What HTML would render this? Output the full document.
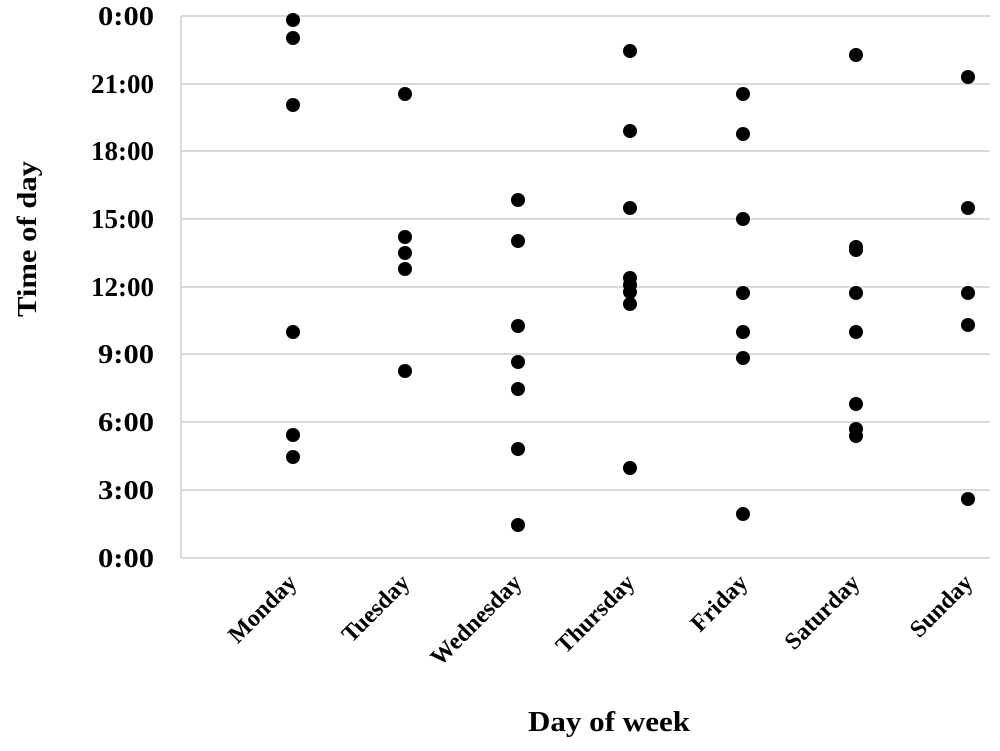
<!DOCTYPE html>
<html><head><meta charset="utf-8"><style>body{margin:0;background:#fff}</style></head><body>
<svg width="1000" height="746" xmlns="http://www.w3.org/2000/svg" font-family="Liberation Serif, serif" font-weight="bold">
<rect width="1000" height="746" fill="#fff"/>
<g stroke="#d9d9d9" stroke-width="2">
<line x1="181" y1="16" x2="990" y2="16"/><line x1="181" y1="84" x2="990" y2="84"/><line x1="181" y1="151" x2="990" y2="151"/><line x1="181" y1="219" x2="990" y2="219"/><line x1="181" y1="287" x2="990" y2="287"/><line x1="181" y1="354" x2="990" y2="354"/><line x1="181" y1="422" x2="990" y2="422"/><line x1="181" y1="490" x2="990" y2="490"/><line x1="181" y1="558" x2="990" y2="558"/>
<line x1="181" y1="16" x2="181" y2="558"/>
</g>
<g font-size="27" text-anchor="end" fill="#000">
<text x="154" y="25" textLength="56" lengthAdjust="spacingAndGlyphs">0:00</text><text x="154" y="93">21:00</text><text x="154" y="160">18:00</text><text x="154" y="228">15:00</text><text x="154" y="296">12:00</text><text x="154" y="363" textLength="56" lengthAdjust="spacingAndGlyphs">9:00</text><text x="154" y="431" textLength="56" lengthAdjust="spacingAndGlyphs">6:00</text><text x="154" y="499" textLength="56" lengthAdjust="spacingAndGlyphs">3:00</text><text x="154" y="567" textLength="56" lengthAdjust="spacingAndGlyphs">0:00</text>
</g>
<g font-size="24" text-anchor="end" fill="#000">
<text transform="translate(298,584) rotate(-45)">Monday</text>
<text transform="translate(411,584) rotate(-45)">Tuesday</text>
<text transform="translate(523,584) rotate(-45)">Wednesday</text>
<text transform="translate(636,584) rotate(-45)">Thursday</text>
<text transform="translate(749,584) rotate(-45)">Friday</text>
<text transform="translate(861,584) rotate(-45)">Saturday</text>
<text transform="translate(974,584) rotate(-45)">Sunday</text>
</g>
<text x="609" y="731" font-size="28" text-anchor="middle" textLength="162" lengthAdjust="spacingAndGlyphs">Day of week</text>
<text transform="translate(36,239) rotate(-90)" font-size="27" text-anchor="middle" textLength="156" lengthAdjust="spacingAndGlyphs">Time of day</text>
<g fill="#000">
<circle cx="293" cy="20" r="7"/><circle cx="293" cy="38" r="7"/><circle cx="293" cy="105" r="7"/><circle cx="293" cy="332" r="7"/><circle cx="293" cy="435" r="7"/><circle cx="293" cy="457" r="7"/>
<circle cx="405" cy="94" r="7"/><circle cx="405" cy="237" r="7"/><circle cx="405" cy="253" r="7"/><circle cx="405" cy="269" r="7"/><circle cx="405" cy="371" r="7"/>
<circle cx="518" cy="200" r="7"/><circle cx="518" cy="241" r="7"/><circle cx="518" cy="326" r="7"/><circle cx="518" cy="362" r="7"/><circle cx="518" cy="389" r="7"/><circle cx="518" cy="449" r="7"/><circle cx="518" cy="525" r="7"/>
<circle cx="630" cy="51" r="7"/><circle cx="630" cy="131" r="7"/><circle cx="630" cy="208" r="7"/><circle cx="630" cy="278" r="7"/><circle cx="630" cy="285" r="7"/><circle cx="630" cy="292" r="7"/><circle cx="630" cy="304" r="7"/><circle cx="630" cy="468" r="7"/>
<circle cx="743" cy="94" r="7"/><circle cx="743" cy="134" r="7"/><circle cx="743" cy="219" r="7"/><circle cx="743" cy="293" r="7"/><circle cx="743" cy="332" r="7"/><circle cx="743" cy="358" r="7"/><circle cx="743" cy="514" r="7"/>
<circle cx="856" cy="55" r="7"/><circle cx="856" cy="247" r="7"/><circle cx="856" cy="250" r="7"/><circle cx="856" cy="293" r="7"/><circle cx="856" cy="332" r="7"/><circle cx="856" cy="404" r="7"/><circle cx="856" cy="429" r="7"/><circle cx="856" cy="436" r="7"/>
<circle cx="968" cy="77" r="7"/><circle cx="968" cy="208" r="7"/><circle cx="968" cy="293" r="7"/><circle cx="968" cy="325" r="7"/><circle cx="968" cy="499" r="7"/>
</g>
</svg>
</body></html>
